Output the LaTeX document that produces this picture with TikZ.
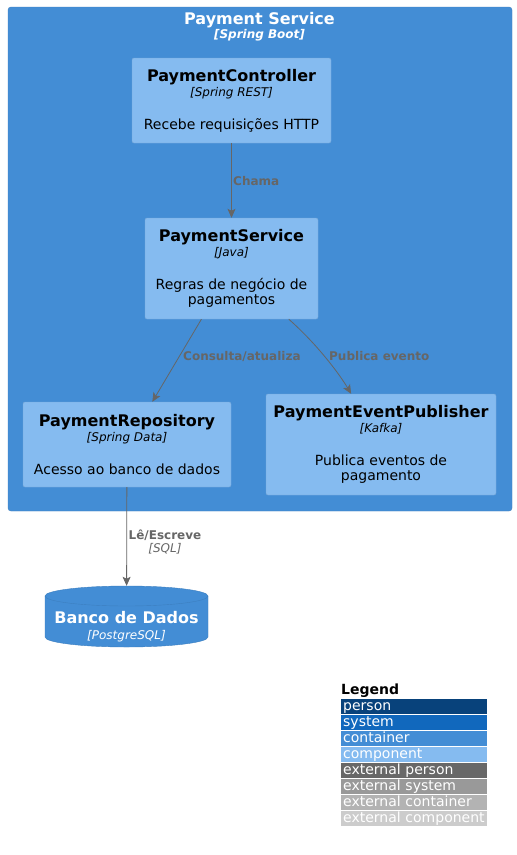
\documentclass[tikz,border=0pt]{standalone}
\usepackage{fontspec}
\setmainfont{DejaVu Sans}
\usetikzlibrary{arrows.meta}

\definecolor{contfill}{HTML}{438DD5}
\definecolor{contline}{HTML}{3C7FC0}
\definecolor{compfill}{HTML}{85BBF0}
\definecolor{compline}{HTML}{78A8D8}
\definecolor{relgray}{HTML}{666666}
\definecolor{lgperson}{HTML}{08427B}
\definecolor{lgsystem}{HTML}{1168BD}
\definecolor{lgextperson}{HTML}{686868}
\definecolor{lgextsystem}{HTML}{999999}
\definecolor{lgextcont}{HTML}{B3B3B3}
\definecolor{lgextcomp}{HTML}{CCCCCC}

\newcommand{\comptext}[3]{{\bfseries\fontsize{16}{15}\selectfont #1}\\{\itshape\fontsize{12}{15}\selectfont [#2]}\\[18pt]#3}

\tikzset{
  compbox/.style={rectangle, rounded corners=2pt, fill=compfill, draw=compline, align=center,
    font=\fontsize{14}{15}\selectfont, inner sep=0pt},
  rel/.style={draw=relgray, line width=0.8pt, -{Stealth[length=9pt,width=8pt,inset=2pt]}},
  rellabel/.style={text=relgray, font=\bfseries\fontsize{12}{13}\selectfont, inner sep=0pt},
  legendrow/.style={rectangle, minimum width=146pt, minimum height=15pt, inner xsep=2pt, inner ysep=0pt,
    text height=10.5pt, text depth=3.5pt, text=white, anchor=north west, text width=142pt,
    align=left, font=\fontsize{14}{14}\selectfont}
}

\begin{document}
\begin{tikzpicture}[x=1pt,y=-1pt]
\useasboundingbox (0,0) rectangle (517,855);
\fill[white] (0,0) rectangle (517,855);

% Fronteira do container
\draw[fill=contfill, draw=contline, rounded corners=3pt] (8,7) rectangle (512,511);
\node[text=white, align=center, font=\fontsize{12}{14}\selectfont] (bndtitle) at (259.5,27)
  {{\bfseries\fontsize{16}{16}\selectfont Payment Service}\\{\bfseries\itshape [Spring Boot]}};

% Componentes
\node[compbox, minimum width=199pt, minimum height=85pt] (ctrl) at (231.5,100.5)
  {\comptext{PaymentController}{Spring REST}{Recebe requisições HTTP}};
\node[compbox, minimum width=173pt, minimum height=101pt] (svc) at (231.5,268.5)
  {\comptext{PaymentService}{Java}{Regras de negócio de\\pagamentos}};
\node[compbox, minimum width=208pt, minimum height=85pt] (repo) at (127,444.5)
  {\comptext{PaymentRepository}{Spring Data}{Acesso ao banco de dados}};
\node[compbox, minimum width=230pt, minimum height=101pt] (pub) at (381,444.5)
  {\comptext{PaymentEventPublisher}{Kafka}{Publica eventos de\\pagamento}};

% Banco (cilindro)
\node[minimum width=163pt, minimum height=61pt, inner sep=0pt] (db) at (126.5,616.5) {};
\draw[fill=contfill, draw=contline] (45,596) -- (45,637)
  arc[start angle=180, end angle=0, x radius=81.5, y radius=10] -- (208,596)
  arc[start angle=0, end angle=-180, x radius=81.5, y radius=10] -- cycle;
\draw[contline] (45,596) arc[start angle=180, end angle=0, x radius=81.5, y radius=10];
\node[text=white, align=center, font=\fontsize{12}{16}\selectfont] (dbtext) at (126.5,627)
  {{\bfseries\fontsize{16}{16}\selectfont Banco de Dados}\\{\itshape [PostgreSQL]}};

% Relacoes
\draw[rel] (ctrl) -- (svc);
\node[rellabel, anchor=west] (lchama) at (233,181) {Chama};
\draw[rel] (svc) -- (repo);
\node[rellabel, anchor=west] (lconsulta) at (183,356) {Consulta/atualiza};
\draw[rel] (svc) .. controls (318,345) and (340,375) .. (pub);
\node[rellabel, anchor=west] (lpublica) at (329,356) {Publica evento};
\draw[rel] (repo) -- (db);
\node[rellabel, align=center] (lle) at (165,541.5)
  {Lê/Escreve\\{\mdseries\itshape [SQL]}};

% Legenda
\node[anchor=north west, inner sep=0pt, font=\bfseries\fontsize{14}{14}\selectfont] (lgtitle) at (341,684) {Legend};
\node[legendrow, fill=lgperson] (lg1) at (341,699) {person};
\node[legendrow, fill=lgsystem] (lg2) at (341,715) {system};
\node[legendrow, fill=contfill] (lg3) at (341,731) {container};
\node[legendrow, fill=compfill] (lg4) at (341,747) {component};
\node[legendrow, fill=lgextperson] (lg5) at (341,763) {external person};
\node[legendrow, fill=lgextsystem] (lg6) at (341,779) {external system};
\node[legendrow, fill=lgextcont] (lg7) at (341,795) {external container};
\node[legendrow, fill=lgextcomp] (lg8) at (341,811) {external component};
\end{tikzpicture}
\end{document}
